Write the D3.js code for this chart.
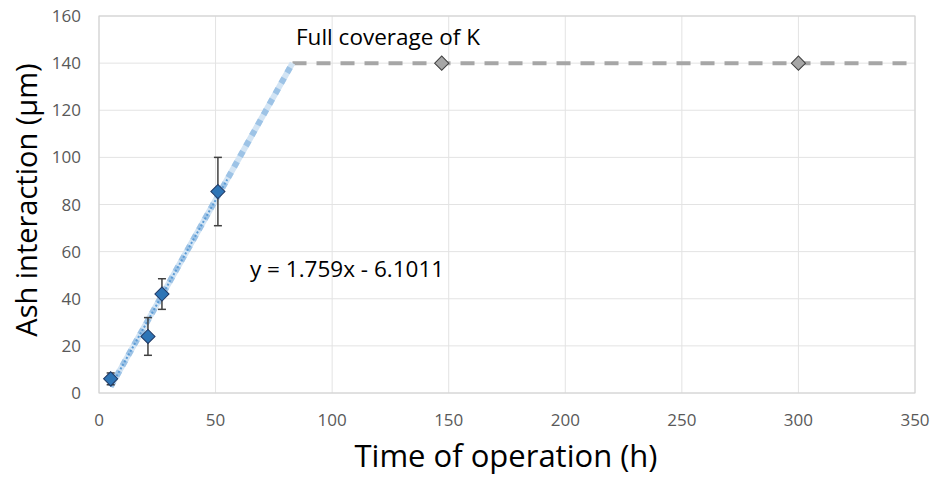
<!DOCTYPE html>
<html lang="en">
<head>
<meta charset="utf-8">
<title>Ash interaction</title>
<script src="https://cdn.jsdelivr.net/npm/d3@7"></script>
<style>
  body { margin: 0; background: #fff; }
  text { font-family: "Open Sans", "Noto Sans", sans-serif; }
</style>
</head>
<body>
<script>
// measured points (time h, ash interaction µm, error)
var hours = [5, 21, 27, 51];
var ash = [6, 24, 42, 85.5];
var errs = [2.5, 8, 6.5, 14.5];
// full coverage points
var fullHours = [147, 300];
var fullAsh = [140, 140];
// extrapolated line and plateau
var rampX = [5, 83];
var rampY = [2.7, 140];
var plateauX = [83, 350];
var plateauY = [140, 140];
var trendX = [5, 55];
var xTicks = [0, 50, 100, 150, 200, 250, 300, 350];
var yTicks = [0, 20, 40, 60, 80, 100, 120, 140, 160];
var slope = 1.759, intercept = -6.1011;

var width = 932, height = 477;
var margin = { left: 99, right: 17, top: 16, bottom: 84 };

var svg = d3.select("body").append("svg")
    .attr("width", width)
    .attr("height", height);

var x = d3.scaleLinear().domain([0, 350]).range([margin.left, width - margin.right]);
var y = d3.scaleLinear().domain([0, 160]).range([height - margin.bottom, margin.top]);

// gridlines
svg.append("g").selectAll("line").data(xTicks).enter().append("line")
    .attr("x1", d => x(d)).attr("x2", d => x(d))
    .attr("y1", y(0)).attr("y2", y(160))
    .attr("stroke", "#e3e3e3").attr("stroke-width", 1);
svg.append("g").selectAll("line").data(yTicks).enter().append("line")
    .attr("x1", x(0)).attr("x2", x(350))
    .attr("y1", d => y(d)).attr("y2", d => y(d))
    .attr("stroke", "#e3e3e3").attr("stroke-width", 1);

// plot border
svg.append("rect")
    .attr("x", x(0)).attr("y", y(160))
    .attr("width", x(350) - x(0)).attr("height", y(0) - y(160))
    .attr("fill", "none").attr("stroke", "#d0d0d0").attr("stroke-width", 1);

// tick labels
svg.append("g").selectAll("text").data(xTicks).enter().append("text")
    .attr("x", d => x(d)).attr("y", y(0) + 33)
    .attr("text-anchor", "middle")
    .attr("font-size", 17).attr("fill", "#595959")
    .text(d => d);
svg.append("g").selectAll("text").data(yTicks).enter().append("text")
    .attr("x", x(0) - 18).attr("y", d => y(d) + 6)
    .attr("text-anchor", "end")
    .attr("font-size", 17).attr("fill", "#595959")
    .text(d => d);

// axis titles
svg.append("text")
    .attr("x", 506).attr("y", 467)
    .attr("text-anchor", "middle")
    .attr("font-size", 31).attr("fill", "#000")
    .text("Time of operation (h)");
svg.append("text")
    .attr("transform", "translate(37,200) rotate(-90)")
    .attr("text-anchor", "middle")
    .attr("font-size", 29).attr("fill", "#000")
    .text("Ash interaction (µm)");

var line = d3.line().x(d => x(d[0])).y(d => y(d[1]));

// plateau (grey dashed)
svg.append("path")
    .attr("d", line(d3.zip(plateauX, plateauY)))
    .attr("fill", "none").attr("stroke", "#a6a6a6")
    .attr("stroke-width", 4).attr("stroke-dasharray", "14,10");

// ramp (light blue thick square dots)
svg.append("path")
    .attr("d", line(d3.zip(rampX, rampY)))
    .attr("fill", "none").attr("stroke", "#d2e4f4")
    .attr("stroke-width", 6);
svg.append("path")
    .attr("d", line(d3.zip(rampX, rampY)))
    .attr("fill", "none").attr("stroke", "#9dc3e6")
    .attr("stroke-width", 6).attr("stroke-dasharray", "6,6");

// linear trendline (thin dotted)
svg.append("path")
    .attr("d", line(trendX.map(t => [t, slope * t + intercept])))
    .attr("fill", "none").attr("stroke", "#5b9bd5")
    .attr("stroke-width", 2).attr("stroke-dasharray", "2,2");

// error bars
var pts = d3.zip(hours, ash, errs);
var eb = svg.append("g").attr("stroke", "#404040").attr("stroke-width", 1.5);
pts.forEach(function (p) {
    eb.append("line").attr("x1", x(p[0])).attr("x2", x(p[0]))
        .attr("y1", y(p[1] - p[2])).attr("y2", y(p[1] + p[2]));
    [p[1] - p[2], p[1] + p[2]].forEach(function (v) {
        eb.append("line").attr("x1", x(p[0]) - 4).attr("x2", x(p[0]) + 4)
            .attr("y1", y(v)).attr("y2", y(v));
    });
});

// markers
var diamond = d3.symbol().type(d3.symbolSquare).size(100);
svg.append("g").selectAll("path").data(pts).enter().append("path")
    .attr("d", diamond)
    .attr("transform", d => "translate(" + x(d[0]) + "," + y(d[1]) + ") rotate(45)")
    .attr("fill", "#2e75b6").attr("stroke", "#1f3864").attr("stroke-width", 1);
svg.append("g").selectAll("path").data(d3.zip(fullHours, fullAsh)).enter().append("path")
    .attr("d", diamond)
    .attr("transform", d => "translate(" + x(d[0]) + "," + y(d[1]) + ") rotate(45)")
    .attr("fill", "#a6a6a6").attr("stroke", "#404040").attr("stroke-width", 1);

// annotations
svg.append("text")
    .attr("x", 296).attr("y", 45)
    .attr("font-size", 22.5).attr("fill", "#000")
    .text("Full coverage of K");
svg.append("text")
    .attr("x", 250).attr("y", 277)
    .attr("font-size", 22.5).attr("fill", "#000")
    .text("y = " + slope + "x - " + Math.abs(intercept));
</script>
</body>
</html>
